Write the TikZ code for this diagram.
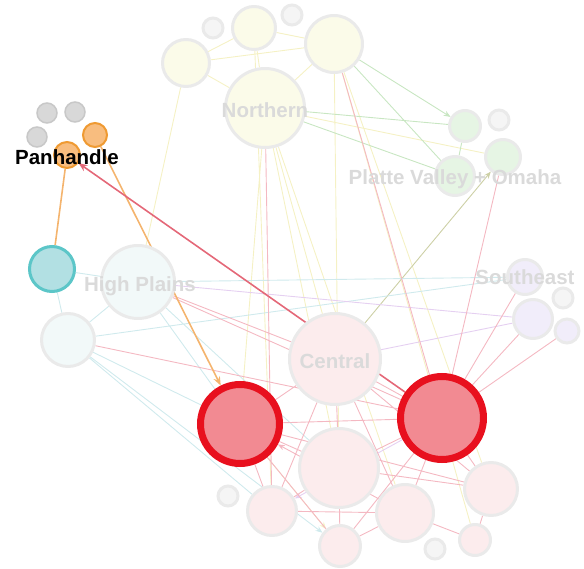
\documentclass[tikz,border=0pt]{standalone}
\usepackage{fontspec}
\setmainfont{Liberation Sans}
\usepackage{xcolor}
\definecolor{fd-line}{RGB}{234,234,234}
\definecolor{fd-yel}{RGB}{251,251,233}
\definecolor{fd-pink}{RGB}{252,236,237}
\definecolor{fd-cyan}{RGB}{242,249,249}
\definecolor{fd-green}{RGB}{230,245,228}
\definecolor{fd-purp}{RGB}{241,237,250}
\definecolor{fd-grey}{RGB}{245,245,245}
\definecolor{hi-red}{RGB}{232,16,30}
\definecolor{hi-redfill}{RGB}{242,138,146}
\definecolor{hi-teal}{RGB}{92,198,200}
\definecolor{hi-tealfill}{RGB}{178,224,227}
\definecolor{hi-orange}{RGB}{239,154,50}
\definecolor{hi-orangefill}{RGB}{248,189,127}
\definecolor{hi-grey}{RGB}{200,200,200}
\definecolor{hi-greyfill}{RGB}{216,216,216}
\definecolor{e-pink}{RGB}{244,184,194}
\definecolor{e-yel}{RGB}{245,241,196}
\definecolor{e-green}{RGB}{200,230,194}
\definecolor{e-cyan}{RGB}{208,234,237}
\definecolor{e-purp}{RGB}{229,208,241}
\definecolor{e-olive}{RGB}{205,208,166}
\definecolor{e-orange}{RGB}{244,180,110}
\definecolor{e-red}{RGB}{228,104,120}
\definecolor{lbl}{RGB}{218,218,218}
\usepackage{tikz}
\usetikzlibrary{arrows.meta,backgrounds}

\begin{document}
\begin{tikzpicture}[x=1pt,y=-1pt,
    fade/.style={circle,draw=fd-line,line width=3pt,inner sep=0pt,minimum size=#1},
    hired/.style={circle,draw=hi-red,fill=hi-redfill,line width=7pt,inner sep=0pt,minimum size=#1},
    higrey/.style={circle,draw=hi-grey,fill=hi-greyfill,line width=1.5pt,inner sep=0pt,minimum size=20pt},
    hiorange/.style={circle,draw=hi-orange,fill=hi-orangefill,line width=2pt,inner sep=0pt,minimum size=#1},
    edge/.style={-{Stealth[length=7pt,width=5.5pt]},line width=0.9pt},
    lab/.style={font=\bfseries\fontsize{20.5}{24}\selectfont,text=lbl}]
    \useasboundingbox (0,0) rectangle (584,569);
    % Northern
    \node[fade=79pt,fill=fd-yel] (nor) at (265,108) {};
    \node[fade=47pt,fill=fd-yel] (nw) at (186,63) {};
    \node[fade=43pt,fill=fd-yel] (nn) at (254,28) {};
    \node[fade=57pt,fill=fd-yel] (ne) at (334,44) {};
    \node[fade=20pt,fill=fd-grey] (ng1) at (213,28) {};
    \node[fade=20pt,fill=fd-grey] (ng2) at (292,15) {};
    % Platte Valley + Omaha
    \node[fade=31pt,fill=fd-green] (pv1) at (465,126) {};
    \node[fade=20pt,fill=fd-grey] (pvg) at (499,120) {};
    \node[fade=35pt,fill=fd-green] (pv2) at (503,157) {};
    \node[fade=39pt,fill=fd-green] (pv3) at (455,176) {};
    % Southeast
    \node[fade=35pt,fill=fd-purp] (se1) at (525,277) {};
    \node[fade=39pt,fill=fd-purp] (se2) at (533,319) {};
    \node[fade=20pt,fill=fd-grey] (seg) at (563,298) {};
    \node[fade=24pt,fill=fd-purp] (se3) at (567,331) {};
    % High Plains
    \node[fade=73pt,fill=fd-cyan] (hp) at (138,282) {};
    \node[fade=53pt,fill=fd-cyan] (hl) at (68,340) {};
    % Central and the rest
    \node[fade=91pt,fill=fd-pink] (cen) at (335,359) {};
    \node[fade=79pt,fill=fd-pink] (b1) at (339,468) {};
    \node[fade=20pt,fill=fd-grey] (bg1) at (228,496) {};
    \node[fade=49pt,fill=fd-pink] (b2) at (272,511) {};
    \node[fade=41pt,fill=fd-pink] (b3) at (340,546) {};
    \node[fade=57pt,fill=fd-pink] (b4) at (405,513) {};
    \node[fade=20pt,fill=fd-grey] (bg2) at (435,549) {};
    \node[fade=31pt,fill=fd-pink] (b5) at (475,540) {};
    \node[fade=53pt,fill=fd-pink] (b6) at (491,489) {};
    % highlighted
    \node[circle,draw=hi-teal,fill=hi-tealfill,line width=3pt,inner sep=0pt,minimum size=45pt] (teal) at (52,269) {};
    \node[hired=79pt] (red1) at (240,424) {};
    \node[hired=83pt] (red2) at (442,418) {};
    \node[higrey] (pg1) at (47,113) {};
    \node[higrey] (pg2) at (75,112) {};
    \node[higrey] (pg3) at (37,137) {};
    \node[hiorange=24pt] (po1) at (95,135) {};
    \node[hiorange=26pt] (po2) at (67,155) {};

    \begin{scope}[on background layer]
    % faint edges
    \draw[edge,e-yel] (ne)--(nw) (nn)--(ne) (nor)--(ne) (nw)--(nor) (nn)--(nor) (nn)--(nw)
        (nor)--(red1) (nor)--(cen) (nor)--(b1) (ne)--(b1) (ne)--(b5) (nor)--(pv2)
        (nw)--(hp) (nn)--(b2) (ne)--(b6) (nor)--(b4) (red1)--(b3);
    \draw[edge,e-green] (pv3)--(nor) (pv1)--(nor) (ne)--(pv3) (nor)--(pv3) (pv1)--(pv3) (ne)--(pv1);
    \draw[edge,e-olive] (cen)--(pv2);
    \draw[edge,e-cyan] (teal)--(hp) (teal)--(hl) (hl)--(hp) (hl)--(se1) (hp)--(se1)
        (hp)--(red1) (hl)--(red1) (hl)--(b2) (hp)--(b1) (hl)--(b3);
    \draw[edge,e-purp] (hp)--(se2) (cen)--(se2) (red2)--(b2);
    \draw[edge,e-pink] (cen)--(hp) (red2)--(hp) (red2)--(hl) (red2)--(red1) (cen)--(red1)
        (red1)--(b2) (b1)--(red1) (red2)--(cen) (cen)--(b1) (b1)--(b3) (b4)--(b2)
        (b4)--(b3) (b4)--(b5) (red2)--(b6) (red2)--(b4) (cen)--(b6) (b1)--(b6)
        (red2)--(se1) (red2)--(se2) (red2)--(se3) (red2)--(ne) (red2)--(pv2)
        (b2)--(nor) (cen)--(b4) (red2)--(b1) (b1)--(b2) (red1)--(b3) (b6)--(b5)
        (red1)--(b1) (b6)--(red1) (red2)--(b3) (cen)--(b2) (b4)--(red1);
    % highlighted edges
    \draw[edge,e-orange,line width=1.6pt,-{Stealth[length=9pt,width=7pt]}] (po2)--(teal) (po1)--(red1);
    \draw[edge,e-red,line width=1.6pt,-{Stealth[length=9pt,width=7pt]}] (red2)--(po2);
    \end{scope}

    % labels
    \node[lab] (tnor) at (265,110) {Northern};
    \node[lab] (tpv) at (455,179) {Platte Valley + Omaha};
    \node[lab] (tse) at (525,277) {Southeast};
    \node[lab] (thp) at (140,286) {High Plains};
    \node[lab] (tcen) at (335,361) {Central};
    \node[font=\bfseries\fontsize{20.5}{24}\selectfont] (tpan) at (67,157) {Panhandle};
\end{tikzpicture}
\end{document}
